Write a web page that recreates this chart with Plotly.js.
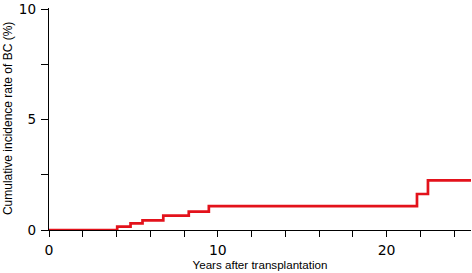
<!DOCTYPE html>
<html>
<head>
<meta charset="utf-8">
<script src="https://cdn.plot.ly/plotly-3.0.1.min.js"></script>
<style>html,body{margin:0;padding:0;background:#fff;}#chart{width:472px;height:273px;}</style>
</head>
<body>
<div id="chart"></div>
<script>
var years = [0, 4.04, 4.83, 5.54, 6.77, 8.28, 9.47, 21.8, 22.45, 25];
var incidence = [0, 0.15, 0.30, 0.44, 0.65, 0.83, 1.08, 1.63, 2.25, 2.25];
var xTickVals = [0, 10, 20];
var yTickVals = [0, 5, 10];
var xTitle = 'Years after transplantation';
var yTitle = 'Cumulative incidence rate of BC (%)';

var trace = {
  x: years, y: incidence, type: 'scatter', mode: 'lines',
  line: {shape: 'hv', color: '#e3121b', width: 2.7},
  cliponaxis: false, hoverinfo: 'none'
};
var layout = {
  width: 472, height: 273,
  margin: {l: 49, r: 1, t: 8, b: 43},
  paper_bgcolor: '#fff', plot_bgcolor: '#fff',
  showlegend: false,
  xaxis: {
    range: [0, 25], showgrid: false, zeroline: false,
    showline: true, linecolor: '#000', linewidth: 1.3, layer: 'below traces',
    tickmode: 'array', tickvals: xTickVals, ticks: 'outside', ticklen: 6, tickcolor: '#000', tickwidth: 1,
    tickfont: {family: 'DejaVu Sans', size: 14, color: '#000'},
    ticklabeloverflow: 'allow', ticklabelstandoff: 1,
    minor: {dtick: 2, ticks: 'outside', ticklen: 6, tickcolor: '#000', tickwidth: 1, showgrid: false},
    title: {text: xTitle, font: {family: 'Liberation Sans', size: 11.6, color: '#000'}, standoff: 2},
    automargin: false
  },
  yaxis: {
    range: [0, 10.05], showgrid: false, zeroline: false,
    showline: true, linecolor: '#000', linewidth: 1.3, layer: 'below traces',
    tickmode: 'array', tickvals: yTickVals, ticks: 'outside', ticklen: 7, tickcolor: '#000', tickwidth: 1,
    tickfont: {family: 'DejaVu Sans', size: 13.5, color: '#000'},
    ticklabeloverflow: 'allow', ticklabelstandoff: 2,
    ticklabelshift: 1.5,
    minor: {dtick: 2.5, ticks: 'outside', ticklen: 7, tickcolor: '#000', tickwidth: 1, showgrid: false},
    automargin: false
  },
  annotations: [{
    text: yTitle, xref: 'paper', yref: 'paper', x: -0.097, y: 0.5,
    xanchor: 'center', yanchor: 'middle', textangle: -90, showarrow: false,
    font: {family: 'Liberation Sans', size: 12, color: '#000'}
  }]
};
Plotly.newPlot('chart', [trace], layout, {staticPlot: true, displayModeBar: false});
</script>
</body>
</html>
